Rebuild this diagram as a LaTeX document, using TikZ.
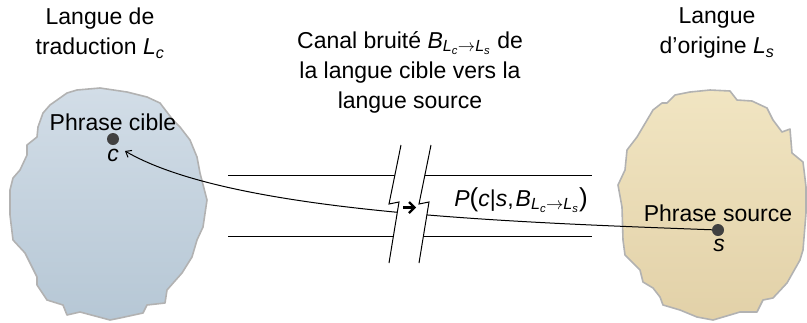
\documentclass[tikz,border=0pt]{standalone}
\usepackage{fontspec}
\setmainfont{Liberation Sans}
\usetikzlibrary{arrows.meta}
\definecolor{lbtop}{RGB}{210,221,231}
\definecolor{lbbot}{RGB}{182,199,213}
\definecolor{rbtop}{RGB}{241,229,194}
\definecolor{rbbot}{RGB}{226,209,168}
\definecolor{blobline}{RGB}{178,178,178}
\begin{document}
\begin{tikzpicture}[x=1pt,y=-1pt,
  lbl/.style={font=\fontsize{23}{30}\selectfont, align=center, inner sep=0pt},
  blob/.style={draw=blobline, line width=1.6pt, line join=round},
  dotn/.style={circle, fill=black!75, inner sep=0pt, minimum size=12pt},
  chan/.style={line width=1pt},
  boldarrow/.style={line width=2.4pt, line join=miter},
]
\useasboundingbox (0,0) rectangle (807,322);

% left blob (target language)
\path[blob, top color=lbtop, bottom color=lbbot]
 (20,170) -- (27,155) -- (27,145) -- (37,137) -- (38,127) -- (43,113) -- (50,105) -- (67,93) -- (77,90) -- (100,88) -- (127,92) -- (147,97) -- (160,103) -- (173,120) -- (180,127) -- (190,140) -- (197,157) -- (200,173) -- (207,200) -- (203,227) -- (197,240) -- (192,257) -- (182,273) -- (167,290) -- (165,303) -- (147,305) -- (143,313) -- (120,318) -- (110,320) -- (80,312) -- (67,315) -- (63,305) -- (47,300) -- (37,285) -- (37,277) -- (25,253) -- (13,240) -- (10,215) -- (10,190) -- (13,178) -- cycle;

% right blob (source language)
\path[blob, top color=rbtop, bottom color=rbbot]
 (625,170) -- (627,150) -- (637,137) -- (653,110) -- (662,103) -- (667,103) -- (675,95) -- (690,92) -- (710,90) -- (730,91) -- (737,100) -- (752,101) -- (767,108) -- (773,120) -- (782,132) -- (790,129) -- (792,153) -- (803,162) -- (804,170) -- (806,187) -- (806,213) -- (803,250) -- (800,260) -- (787,283) -- (773,298) -- (763,300) -- (757,312) -- (740,312) -- (730,315) -- (713,320) -- (697,317) -- (680,310) -- (663,305) -- (660,297) -- (653,288) -- (643,282) -- (640,270) -- (625,255) -- (623,240) -- (622,207) -- (618,185) -- cycle;

% titles
\node[lbl] (tl) at (100,33) {Langue de\\traduction \textit{L}\textsubscript{\textit{c}}};
\node[lbl] (tr) at (717,33) {Langue\\d'origine \textit{L}\textsubscript{\textit{s}}};
\node[lbl] (tc) at (410,72) {Canal bruité \textit{B}\textsubscript{\textit{L}\textsubscript{\textit{c}}$\rightarrow$\textit{L}\textsubscript{\textit{s}}} de\\la langue cible vers la\\langue source};

% phrase labels
\node[lbl] (pc) at (113,122) {Phrase cible};
\node[lbl] (ps) at (718,213) {Phrase source};
\node[lbl] (lc) at (113,155) {\textit{c}};
\node[lbl] (ls) at (719,245) {\textit{s}};

% channel lines
\draw[chan] (228,175) -- (592,175);
\draw[chan] (228,236) -- (592,236);

% dots
\node[dotn] (c) at (113,139) {};
\node[dotn] (s) at (718,230) {};
\coordinate (cin) at (125,151);

% connector from s to c
\draw[chan, -{Straight Barb[length=5pt,width=8pt]}] (s) .. controls (500,222) and (230,212) .. (cin);

% probability label
\node[lbl] (pl) at (521,200) {\textit{P}{\fontsize{26}{26}\selectfont(}\textit{c}|\textit{s},\kern2pt\textit{B}\textsubscript{\textit{L}\textsubscript{\textit{c}}$\rightarrow$\textit{L}\textsubscript{\textit{s}}}{\fontsize{26}{26}\selectfont)}};

% break in the channel
\fill[white] (401,145) -- (389,204) -- (399,202) -- (389,263) -- (419,263) -- (429,202) -- (419,204) -- (431,145) -- cycle;
\draw[chan] (401,145) -- (389,204) -- (399,202) -- (389,263);
\draw[chan] (431,145) -- (419,204) -- (429,202) -- (419,263);
\draw[boldarrow] (403,207.5) -- (413,207.5);
\draw[boldarrow] (409,202) -- (414.5,207.5) -- (409,213);

\end{tikzpicture}
\end{document}
